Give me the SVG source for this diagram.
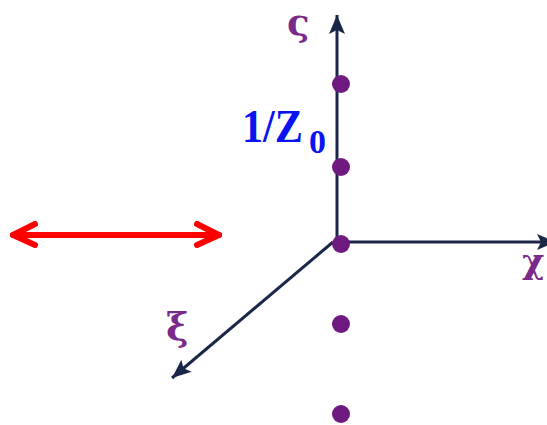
<svg xmlns="http://www.w3.org/2000/svg" width="547" height="425" viewBox="0 0 547 425">
<defs>
<style>
.axis{stroke:#1b2748;stroke-width:3;fill:none}
.dot{fill:#6e1a80}
.lbl{font-family:"DejaVu Serif","Liberation Serif",serif;fill:#7a2a8a;font-weight:bold}
.red{stroke:#ff0000;stroke-width:6;stroke-linecap:round;stroke-linejoin:round;fill:none}
.blue{font-family:"Liberation Serif",serif;font-weight:bold;fill:#0a14f0}
</style>
<marker id="ah" markerUnits="userSpaceOnUse" markerWidth="24" markerHeight="20" viewBox="-20 -10 24 20" refX="0" refY="0" orient="auto">
<path d="M0,0 L-19,-8 L-15,0 L-19,8 Z" fill="#1b2748"/>
</marker>
</defs>
<g id="connectors">
<line class="axis" x1="337" y1="243" x2="337" y2="15" marker-end="url(#ah)"/>
<line class="axis" x1="337" y1="242" x2="556" y2="242" marker-end="url(#ah)"/>
<line class="axis" x1="333" y1="242" x2="172" y2="378" marker-end="url(#ah)"/>
<g id="red-arrow">
<line class="red" x1="13" y1="235" x2="219" y2="235"/>
<polyline class="red" points="35,224 13,235 35,245"/>
<polyline class="red" points="197,224 219,235 197,245"/>
</g>
</g>
<g id="dots">
<circle class="dot" cx="341" cy="84" r="9"/>
<circle class="dot" cx="341" cy="167" r="9"/>
<circle class="dot" cx="341" cy="244" r="9"/>
<circle class="dot" cx="341" cy="324" r="9"/>
<circle class="dot" cx="341" cy="414" r="9"/>
</g>
<g id="labels">
<text class="lbl" x="287" y="35" font-size="37">ς</text>
<text class="lbl" x="166" y="340" font-size="38">ξ</text>
<text class="lbl" x="522" y="273" font-size="34">χ</text>
<text class="blue" x="242" y="142" font-size="47" textLength="61" lengthAdjust="spacingAndGlyphs">1/Z</text>
<text class="blue" x="309" y="153" font-size="34">0</text>
</g>
</svg>
